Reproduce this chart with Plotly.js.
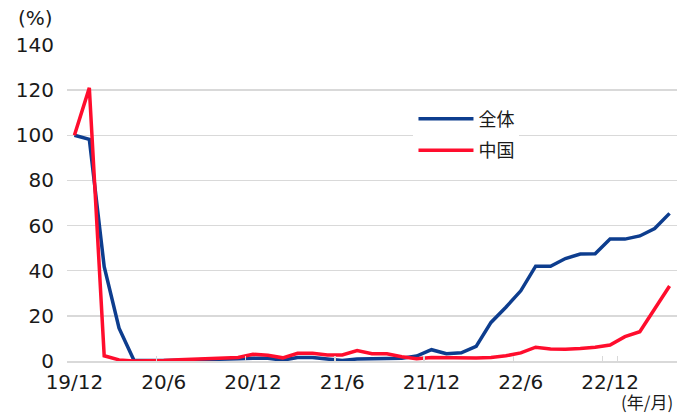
<!DOCTYPE html>
<html>
<head>
<meta charset="utf-8">
<script src="https://cdn.plot.ly/plotly-3.0.1.min.js"></script>
<style>html,body{margin:0;padding:0;background:#fff;}#chart{width:678px;height:413px;}</style>
</head>
<body>
<div id="chart"></div>
<script>
const months = ['19/12','20/1','20/2','20/3','20/4','20/5','20/6','20/7','20/8','20/9','20/10','20/11','20/12',
  '21/1','21/2','21/3','21/4','21/5','21/6','21/7','21/8','21/9','21/10','21/11','21/12',
  '22/1','22/2','22/3','22/4','22/5','22/6','22/7','22/8','22/9','22/10','22/11','22/12',
  '23/1','23/2','23/3','23/4'];
const totalAll = [100,98.2,41.8,14.5,0.3,0.1,0.2,0.3,0.4,0.6,0.8,1.0,1.2,
  1.2,0.4,1.5,1.5,0.7,0.2,0.9,0.9,0.9,1.2,2.2,5.0,
  3.2,3.6,6.5,17.1,23.8,31.1,42.0,42.0,45.4,47.4,47.5,54.0,
  54.0,55.4,58.7,65.4];
const china = [100,121,2.3,0.5,0,0,0.2,0.5,0.8,1.0,1.3,1.6,3.0,
  2.5,1.4,3.4,3.4,2.7,2.7,4.6,3.2,3.2,1.9,1.0,1.6,
  1.5,1.3,1.3,1.6,2.3,3.6,6.1,5.3,5.2,5.5,6.1,7.1,
  10.8,13.0,22.9,33.2];
const seriesNames = ['全体','中国'];
const tickLabels = ['19/12','20/6','20/12','21/6','21/12','22/6','22/12'];

const FONT = 'DejaVu Sans, "Noto Sans CJK JP", sans-serif';
const traces = [
  {x: months, y: totalAll, name: seriesNames[0], legendgroup: 'a', type: 'scatter', mode: 'lines',
   line: {color: '#0d3d8e', width: 3.5}},
  {x: months, y: china, name: seriesNames[1], legendgroup: 'b', type: 'scatter', mode: 'lines',
   line: {color: '#ff0d2d', width: 3.5}}
];
const layout = {
  width: 678, height: 413,
  margin: {l: 67, r: 1, t: 45, b: 52},
  paper_bgcolor: '#fff', plot_bgcolor: '#fff',
  font: {family: FONT, size: 20, color: '#1a1a1a'},
  showlegend: true,
  legend: {x: 0.568, y: 0.824, xanchor: 'left', yanchor: 'top', bgcolor: '#fff',
           font: {family: '"Noto Sans CJK JP", sans-serif', size: 18, color: '#1a1a1a'},
           itemwidth: 55, tracegroupgap: 5, traceorder: 'grouped'},
  xaxis: {type: 'category', range: [-0.5, 40.5], tickmode: 'array', tickvals: tickLabels, ticktext: tickLabels,
          tickangle: 0, tickson: 'boundaries', ticks: 'inside', ticklen: 5, tickwidth: 1.5, tickcolor: '#d9d9d9',
          showgrid: false, showline: true, linecolor: '#d9d9d9', linewidth: 1.5, zeroline: false,
          tickfont: {size: 20}, ticklabelstandoff: 2},
  yaxis: {range: [0, 140], dtick: 20, tick0: 0, showgrid: true, gridcolor: '#d9d9d9', gridwidth: 1.5,
          zeroline: false, showline: false, ticks: '', tickfont: {size: 20}, ticklabelstandoff: 12},
  annotations: [
    {text: '(%)', xref: 'paper', yref: 'paper', x: -0.051, y: 1.085, xanchor: 'center', yanchor: 'middle',
     showarrow: false, font: {size: 20}},
    {text: '(年/月)', xref: 'paper', yref: 'paper', x: 0.997, y: -0.083, xanchor: 'right', yanchor: 'top',
     showarrow: false, font: {family: '"Noto Sans CJK JP", sans-serif', size: 17}}
  ]
};
Plotly.newPlot('chart', traces, layout, {displayModeBar: false, staticPlot: true});
</script>
</body>
</html>
